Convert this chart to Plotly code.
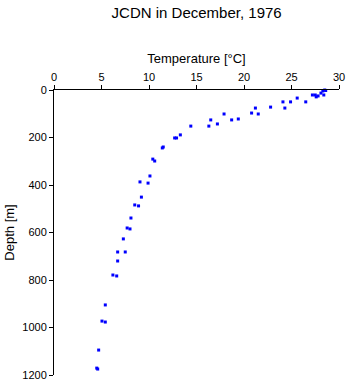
import plotly.graph_objects as go

temperature = [28.5, 28.6, 28.3, 28.1, 28.4, 27.2, 27.5, 27.6, 27.8, 26.5, 25.6, 24.9, 24.1, 24.3,
               22.8, 21.5, 21.2, 20.8, 19.4, 18.7, 17.9, 17.2, 16.5, 16.3, 14.4, 13.3, 12.9, 12.7,
               11.5, 11.4, 10.6, 10.4, 10.1, 9.9, 9.05, 9.2, 8.5, 8.9, 8.1, 7.7, 8.0, 7.3, 6.7,
               7.5, 6.7, 6.2, 6.6, 5.4, 5.05, 5.4, 4.7, 4.5, 4.6]
depth = [0, 2, 4, 13, 21, 21, 21, 29, 25, 50, 34, 50, 50, 76,
         72, 101, 76, 97, 122, 126, 101, 143, 126, 152, 152, 189, 202, 202,
         240, 244, 299, 291, 362, 392, 387, 451, 484, 488, 539, 581, 585, 627, 682,
         682, 720, 779, 783, 905, 973, 977, 1095, 1171, 1175]

fig = go.Figure(go.Scatter(
    x=temperature, y=depth, mode="markers",
    marker=dict(symbol="square", size=3, color="#0000ff", line=dict(width=0)),
    showlegend=False, cliponaxis=False,
))

font = dict(family="Liberation Sans, Arial, sans-serif", size=11, color="black")
fig.update_layout(
    width=348, height=384,
    margin=dict(l=54, r=9, t=90, b=9),
    paper_bgcolor="white", plot_bgcolor="white",
    font=font,
    title=dict(text="JCDN in December, 1976", x=0.565, xanchor="center", y=0.968, yanchor="middle",
               font=dict(family="Liberation Sans, Arial, sans-serif", size=15, color="black")),
    xaxis=dict(side="top", range=[0, 30], tickvals=[0, 5, 10, 15, 20, 25, 30],
               showgrid=False, zeroline=False, showline=True, linecolor="black", linewidth=1,
               ticks="outside", ticklen=4, tickcolor="black", automargin=False,
               title=dict(text="Temperature [°C]", standoff=4)),
    yaxis=dict(range=[1200, 0], tickvals=[0, 200, 400, 600, 800, 1000, 1200],
               showgrid=False, zeroline=False, showline=True, linecolor="black", linewidth=1,
               ticks="outside", ticklen=4, tickcolor="black", automargin=False,
               title=dict(text="Depth [m]", standoff=4)),
)

fig.write_html("out.html")
